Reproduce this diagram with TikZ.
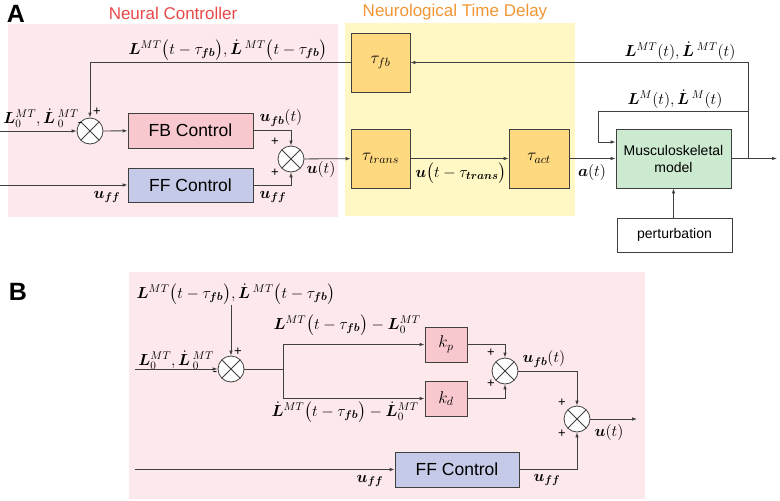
\RequirePackage{fix-cm}
\documentclass[tikz,border=0pt]{standalone}
\usepackage{amsmath}
\usepackage{bm}
\usepackage{fontspec}
\setmainfont{Liberation Sans}
\usetikzlibrary{arrows.meta}
\definecolor{bgpink}{RGB}{253,233,236}
\definecolor{bgyellow}{RGB}{255,248,197}
\definecolor{fbpink}{RGB}{248,200,206}
\definecolor{fflav}{RGB}{197,202,232}
\definecolor{taugold}{RGB}{255,217,128}
\definecolor{muscgreen}{RGB}{204,234,208}
\definecolor{ln}{RGB}{64,64,64}
\definecolor{titlered}{RGB}{232,72,72}
\definecolor{titleorange}{RGB}{242,150,52}
\newcommand\mlabelfont{\fontsize{16}{19}\selectfont}
\newcommand\boxfont{\fontsize{17.5}{20}\selectfont}
\newcommand\smallboxfont{\fontsize{14}{17}\selectfont}
\newcommand\taufont{\fontsize{17}{20}\selectfont}
\newcommand\signfont{\fontsize{13}{15}\selectfont}
\newcommand\fbsub{\bm{fb}}
\newcommand\Ldot{{\dot{\bm{L}}}\,}
\tikzset{
  bx/.style={draw=ln, line width=0.8pt, inner sep=0pt, align=center},
  sumj/.style={circle, draw=ln, fill=white, line width=0.8pt, minimum size=26pt, inner sep=0pt,
    path picture={\draw[ln, line width=0.8pt] (path picture bounding box.north west) -- (path picture bounding box.south east)
      (path picture bounding box.north east) -- (path picture bounding box.south west);}},
  arr/.style={draw=ln, line width=0.8pt, -{Latex[length=5pt,width=3.6pt]}},
  wire/.style={draw=ln, line width=0.8pt},
  lbl/.style={font=\mlabelfont, inner sep=0pt},
  sgn/.style={font=\signfont, inner sep=0pt},
  ttl/.style={font=\fontsize{17}{20}\selectfont, inner sep=0pt},
  panel/.style={font=\bfseries\fontsize{25}{28}\selectfont, inner sep=0pt}
}
\begin{document}
\begin{tikzpicture}[x=1pt,y=-1pt]
\useasboundingbox (0,0) rectangle (780,501);
% backgrounds
\fill[bgpink] (8,24) rectangle (338,217);
\fill[bgyellow] (345,23) rectangle (575,216);
\fill[bgpink] (129,272) rectangle (645,499);
% titles
\node[panel] (pA) at (16,14) {A};
\node[panel] (pB) at (18,292) {B};
\node[ttl, text=titlered] (tNC) at (173,13) {Neural Controller};
\node[ttl, text=titleorange] (tND) at (455,12) {Neurological Time Delay};
% ---------- Panel A ----------
\node[sumj] (sA1) at (90,131) {};
\node[sumj] (sA2) at (291,159) {};
\node[bx, fill=fbpink, minimum width=125pt, minimum height=35pt, font=\boxfont] (fb) at (190.5,130.5) {FB Control};
\node[bx, fill=fflav, minimum width=125pt, minimum height=34pt, font=\boxfont] (ff) at (190.5,185) {FF Control};
\node[bx, fill=taugold, minimum width=59pt, minimum height=59pt, font=\taufont] (taufb) at (380.5,62.5) {$\tau_{fb}$};
\node[bx, fill=taugold, minimum width=59pt, minimum height=59pt, font=\taufont] (tautr) at (380.5,158.5) {$\tau_{trans}$};
\node[bx, fill=taugold, minimum width=60pt, minimum height=59pt, font=\taufont] (tauac) at (539,158.5) {$\tau_{act}$};
\node[bx, fill=muscgreen, minimum width=115pt, minimum height=59pt, font=\smallboxfont] (musc) at (673.5,158.5) {Musculoskeletal\\model};
\node[bx, fill=white, minimum width=115pt, minimum height=34pt, font=\smallboxfont] (pert) at (674.5,235) {perturbation};
\coordinate (inA1) at (0,131);
\coordinate (inA2) at (0,185);
\coordinate (outA) at (777,158.5);
\coordinate (jA) at (748,158.5);
\coordinate (jB) at (748,111);
\coordinate (jC) at (598,111);
\coordinate (jD) at (598,142);
\draw[arr] (inA1) -- (sA1);
\draw[arr] (inA2) -- (ff);
\draw[arr] (sA1) -- (fb);
\draw[arr] (taufb.west) -| (sA1.north);
\draw[arr] (fb.east) -| (sA2.north);
\draw[arr] (ff.east) -| (sA2.south);
\draw[arr] (sA2) -- (tautr);
\draw[arr] (tautr) -- (tauac);
\draw[arr] (tauac) -- (musc);
\draw[arr] (musc.east) -- (outA);
\draw[arr] (jA) |- (taufb.east);
\draw[arr] (jB) -- (jC) -- (jD) -- (musc.west |- jD);
\draw[arr] (pert.north -| musc.south) -- (musc.south);
% labels A
\node[lbl] (lA1) at (228,50) {$\bm{L}^{MT}\bigl(t-\tau_{\fbsub}\bigr),\Ldot^{MT}\bigl(t-\tau_{\fbsub}\bigr)$};
\node[lbl] (lA2) at (41,118) {$\bm{L}_0^{MT},\Ldot_0^{MT}$};
\node[sgn] (mA1) at (80,125) {-};
\node[sgn] (pA1) at (97,112) {+};
\node[lbl] (lA3) at (281,118) {$\bm{u}_{\fbsub}(t)$};
\node[sgn] (pA2) at (275,142) {+};
\node[sgn] (pA3) at (275,173) {+};
\node[lbl] (lA4) at (107,197) {$\bm{u}_{\bm{ff}}$};
\node[lbl] (lA5) at (273,197) {$\bm{u}_{\bm{ff}}$};
\node[lbl] (lA6) at (321,169) {$\bm{u}(t)$};
\node[lbl] (lA7) at (461,173) {$\bm{u}\bigl(t-\tau_{\bm{trans}}\bigr)$};
\node[lbl] (lA8) at (592,172) {$\bm{a}(t)$};
\node[lbl] (lA9) at (680,51) {$\bm{L}^{MT}(t),\Ldot^{MT}(t)$};
\node[lbl] (lA10) at (675,99) {$\bm{L}^{M}(t),\Ldot^{M}(t)$};
% ---------- Panel B ----------
\node[sumj] (sB1) at (231,369) {};
\node[sumj] (sB2) at (505,371) {};
\node[sumj] (sB3) at (577,419) {};
\node[bx, fill=fbpink, minimum width=42pt, minimum height=35pt, font=\taufont] (kp) at (446,344.5) {$k_p$};
\node[bx, fill=fbpink, minimum width=42pt, minimum height=35pt, font=\taufont] (kd) at (446,398.5) {$k_d$};
\node[bx, fill=fflav, minimum width=124pt, minimum height=35pt, font=\boxfont] (ffB) at (457,469.5) {FF Control};
\coordinate (topB) at (231,305);
\coordinate (inB1) at (135,369);
\coordinate (inB2) at (135,469.5);
\coordinate (splitB) at (283,369);
\coordinate (splitU) at (283,344.5);
\coordinate (splitD) at (283,398.5);
\coordinate (outB) at (637,419);
\draw[arr] (topB) -- (sB1.north);
\draw[arr] (inB1) -- (sB1);
\draw[wire] (sB1.east) -- (splitB);
\draw[wire] (splitU) -- (splitD);
\draw[arr] (splitU) -- (kp);
\draw[arr] (splitD) -- (kd);
\draw[arr] (kp.east) -| (sB2.north);
\draw[arr] (kd.east) -| (sB2.south);
\draw[arr] (sB2.east) -| (sB3.north);
\draw[arr] (inB2) -- (ffB);
\draw[arr] (ffB.east) -| (sB3.south);
\draw[arr] (sB3.east) -- (outB);
% labels B
\node[lbl] (lB1) at (236,294) {$\bm{L}^{MT}\bigl(t-\tau_{\fbsub}\bigr),\Ldot^{MT}\bigl(t-\tau_{\fbsub}\bigr)$};
\node[lbl] (lB2) at (176,360) {$\bm{L}_0^{MT},\Ldot_0^{MT}$};
\node[sgn] (mB1) at (215,374) {-};
\node[sgn] (pB1) at (238,352) {+};
\node[lbl] (lB3) at (347,325) {$\bm{L}^{MT}\bigl(t-\tau_{\fbsub}\bigr)-\bm{L}_0^{MT}$};
\node[lbl] (lB4) at (345,412) {${\dot{\bm{L}}}^{MT}\bigl(t-\tau_{\fbsub}\bigr)-{\dot{\bm{L}}}_0^{MT}$};
\node[sgn] (pB2) at (491,353) {+};
\node[sgn] (pB3) at (491,384) {+};
\node[lbl] (lB5) at (544,359) {$\bm{u}_{\fbsub}(t)$};
\node[sgn] (pB4) at (562,403) {+};
\node[sgn] (pB5) at (562,434) {+};
\node[lbl] (lB6) at (609,432) {$\bm{u}(t)$};
\node[lbl] (lB7) at (370,481) {$\bm{u}_{\bm{ff}}$};
\node[lbl] (lB8) at (547,480) {$\bm{u}_{\bm{ff}}$};
\end{tikzpicture}
\end{document}
